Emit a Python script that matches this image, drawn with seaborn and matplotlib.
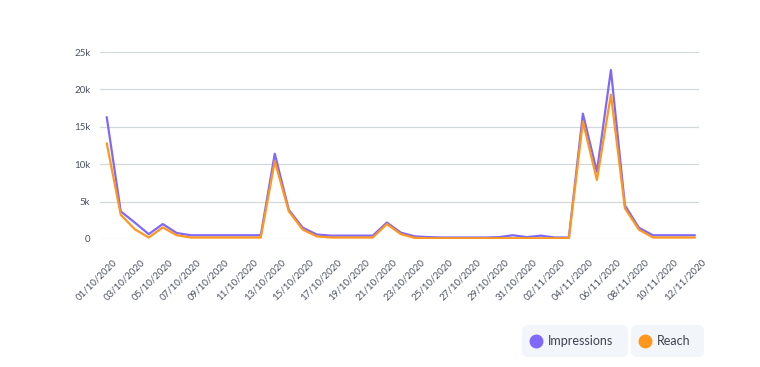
import matplotlib
matplotlib.use("Agg")
import matplotlib.pyplot as plt
import matplotlib.transforms as mtransforms
import seaborn as sns
import pandas as pd
import numpy as np
from matplotlib.patches import FancyBboxPatch
from matplotlib.lines import Line2D

dates = pd.date_range("2020-10-01", "2020-11-12", freq="D")
date_labels = [d.strftime("%d/%m/%Y") for d in dates]

impressions = [16300, 3700, 2200, 650, 2000, 800, 500, 500, 500, 500, 500, 500,
               11400, 3900, 1500, 600, 450, 450, 450, 450, 2200, 850, 350, 250,
               200, 200, 200, 200, 250, 500, 250, 450, 200, 200, 16750, 9000,
               22600, 4500, 1500, 500, 500, 500, 500]
reach = [12800, 3250, 1300, 200, 1550, 500, 200, 200, 200, 200, 200, 200,
         10400, 3700, 1250, 350, 200, 200, 200, 200, 2000, 650, 150, 100,
         100, 100, 100, 100, 100, 100, 100, 100, 100, 100, 15700, 7900,
         19300, 4100, 1250, 200, 200, 200, 200]
series_names = ["Impressions", "Reach"]
colors = ["#8068f8", "#ff971c"]
yticks = [0, 5000, 10000, 15000, 20000, 25000]
ytick_labels = ["0", "5k", "10k", "15k", "20k", "25k"]

df = pd.DataFrame({
    "idx": list(range(len(dates))) * 2,
    "value": impressions + reach,
    "series": [series_names[0]] * len(dates) + [series_names[1]] * len(dates),
})

sns.set_style("white")
plt.rcParams["font.family"] = ["Lato", "DejaVu Sans"]

fig = plt.figure(figsize=(7.6, 3.67), dpi=100)
ax = fig.add_axes([100 / 760, 1 - 239 / 367, 599 / 760, 187 / 367])

sns.lineplot(data=df, x="idx", y="value", hue="series", palette=colors,
             linewidth=1.6, ax=ax, legend=False)

ax.set_xlim(-0.48, len(dates) - 1 + 0.29)
ax.set_ylim(0, 25000)
ax.set_yticks(yticks)
ax.set_yticklabels(ytick_labels)
ax.set_xticks(range(0, len(dates), 2))
ax.set_xticklabels(date_labels[::2], rotation=45, ha="right", va="center",
                   rotation_mode="anchor")
ax.tick_params(axis="both", length=0, labelsize=7, labelcolor="#4b5260")
ax.tick_params(axis="y", pad=7)
ax.tick_params(axis="x", pad=0)
offset = mtransforms.ScaledTranslation(9 / 100, -22 / 100, fig.dpi_scale_trans)
for lab in ax.get_xticklabels():
    lab.set_transform(lab.get_transform() + offset)
ax.grid(axis="y", color="#d3d8dd", linewidth=0.9)
ax.set_axisbelow(True)
for s in ax.spines.values():
    s.set_visible(False)
ax.set_xlabel("")
ax.set_ylabel("")

# legend boxes
W, H = 760, 367
boxes = [(522, 628), (631, 704)]
for (x0, x1), name, c in zip(boxes, series_names, colors):
    y0, y1 = 325, 357
    p = FancyBboxPatch((x0 / W, 1 - y1 / H), (x1 - x0) / W, (y1 - y0) / H,
                       boxstyle="round,pad=0,rounding_size=0.008",
                       transform=fig.transFigure, facecolor="#f2f5fa",
                       edgecolor="none", mutation_aspect=W / H)
    fig.patches.append(p)
    fig.lines.append(Line2D([(x0 + 14) / W], [1 - 341 / H], marker="o",
                            markersize=9, color=c, linestyle="none",
                            transform=fig.transFigure))
    fig.text((x0 + 26) / W, 1 - 341 / H, name, fontsize=9, color="#3d4350",
             va="center", ha="left")

fig.savefig("out.png", dpi=100)
